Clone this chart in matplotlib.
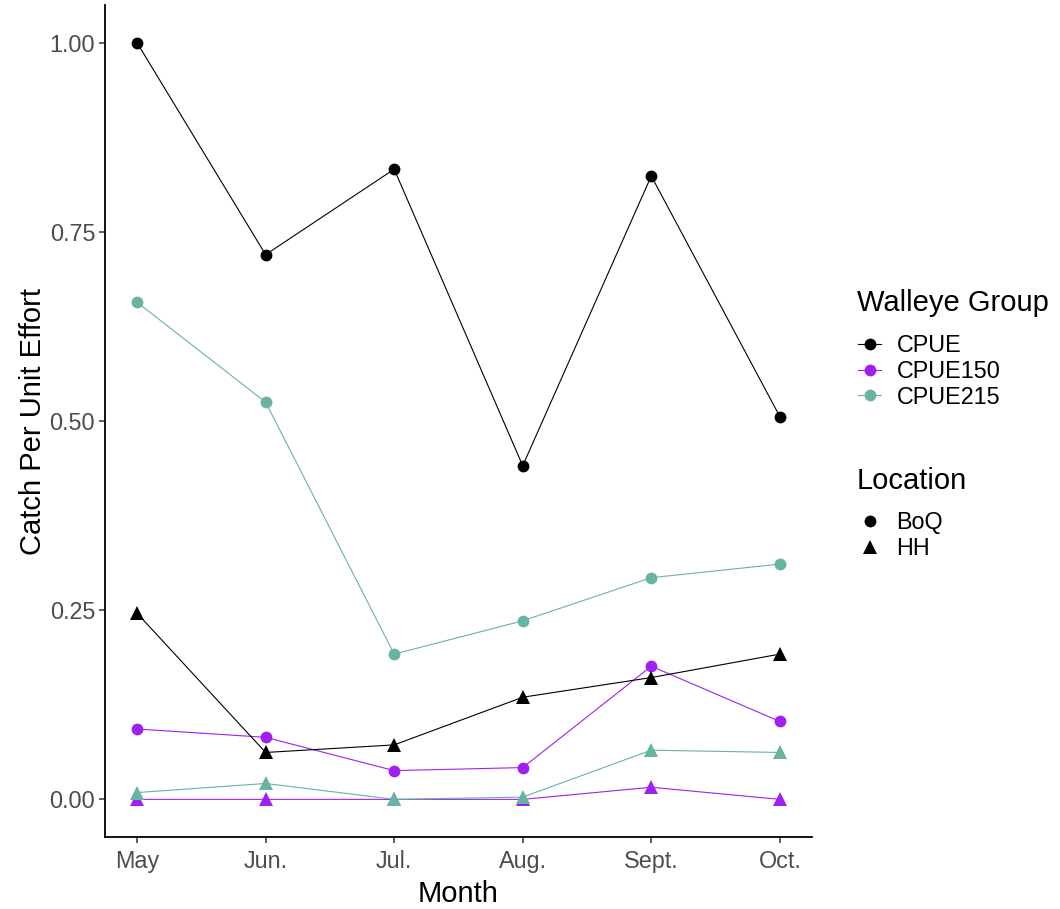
import matplotlib.pyplot as plt
from matplotlib.lines import Line2D

plt.rcParams['font.family'] = ['Liberation Sans', 'DejaVu Sans']

months = ["May", "Jun.", "Jul.", "Aug.", "Sept.", "Oct."]
groups = ["CPUE", "CPUE150", "CPUE215"]
locations = ["BoQ", "HH"]

boq_cpue = [1.00, 0.720, 0.833, 0.441, 0.824, 0.506]
boq_cpue150 = [0.093, 0.082, 0.038, 0.042, 0.176, 0.103]
boq_cpue215 = [0.657, 0.525, 0.192, 0.236, 0.293, 0.311]
hh_cpue = [0.246, 0.062, 0.072, 0.135, 0.161, 0.192]
hh_cpue150 = [0.0, 0.0, 0.0, 0.0, 0.016, 0.0]
hh_cpue215 = [0.009, 0.021, 0.0, 0.003, 0.065, 0.062]

colors = {"CPUE": "black", "CPUE150": "#A020F0", "CPUE215": "#69B3A2"}
series = {
    ("BoQ", "CPUE"): boq_cpue,
    ("BoQ", "CPUE150"): boq_cpue150,
    ("BoQ", "CPUE215"): boq_cpue215,
    ("HH", "CPUE"): hh_cpue,
    ("HH", "CPUE150"): hh_cpue150,
    ("HH", "CPUE215"): hh_cpue215,
}
shapes = {"BoQ": ("o", 8.5), "HH": ("^", 10.5)}

base = 21
fig = plt.figure(figsize=(10.6, 9.09), dpi=100)
ax = fig.add_axes([0.099, 0.079, 0.667, 0.9155])

x = list(range(len(months)))
for (loc, grp), vals in series.items():
    m, ms = shapes[loc]
    ax.plot(x, vals, color=colors[grp], lw=0.8, marker=m, markersize=ms,
            markeredgewidth=0, zorder=3)

ax.set_xlim(-0.25, 5.25)
ax.set_ylim(-0.05, 1.05)
ax.set_xticks(x)
ax.set_xticklabels(months)
ax.set_yticks([0, 0.25, 0.5, 0.75, 1.0])
ax.set_yticklabels(["0.00", "0.25", "0.50", "0.75", "1.00"])
ax.tick_params(labelsize=base * 0.8, labelcolor="#4D4D4D", length=4, width=1.1,
               color="#333333", pad=3)
ax.tick_params(axis="x", pad=5)
for s in ["top", "right"]:
    ax.spines[s].set_visible(False)
for s in ["left", "bottom"]:
    ax.spines[s].set_linewidth(1.3)
ax.set_xlabel("Month", fontsize=base, labelpad=5)
ax.set_ylabel("Catch Per Unit Effort", fontsize=base, labelpad=2)

# legends: titles as text, entries as legends
fig.text(857 / 1060, 1 - 303 / 909, "Walleye Group", fontsize=base, va="center")
grp_handles = [Line2D([0], [0], color=colors[g], lw=0.8, marker="o", markersize=8.5,
                      markeredgewidth=0) for g in groups]
leg1 = fig.legend(grp_handles, groups, loc="upper left",
                  bbox_to_anchor=(858 / 1060, 1 - 334 / 909), frameon=False,
                  fontsize=base * 0.8, handlelength=1.0, handletextpad=0.65,
                  labelspacing=0.12, borderpad=0, borderaxespad=0)

fig.text(857 / 1060, 1 - 481 / 909, "Location", fontsize=base, va="center")
loc_handles = [Line2D([0], [0], color="black", lw=0, marker=shapes[l][0],
                      markersize=shapes[l][1], markeredgewidth=0) for l in locations]
leg2 = fig.legend(loc_handles, locations, loc="upper left",
                  bbox_to_anchor=(858 / 1060, 1 - 511 / 909), frameon=False,
                  fontsize=base * 0.8, handlelength=1.0, handletextpad=0.65,
                  labelspacing=0.12, borderpad=0, borderaxespad=0)

fig.savefig("out.png", dpi=100)
